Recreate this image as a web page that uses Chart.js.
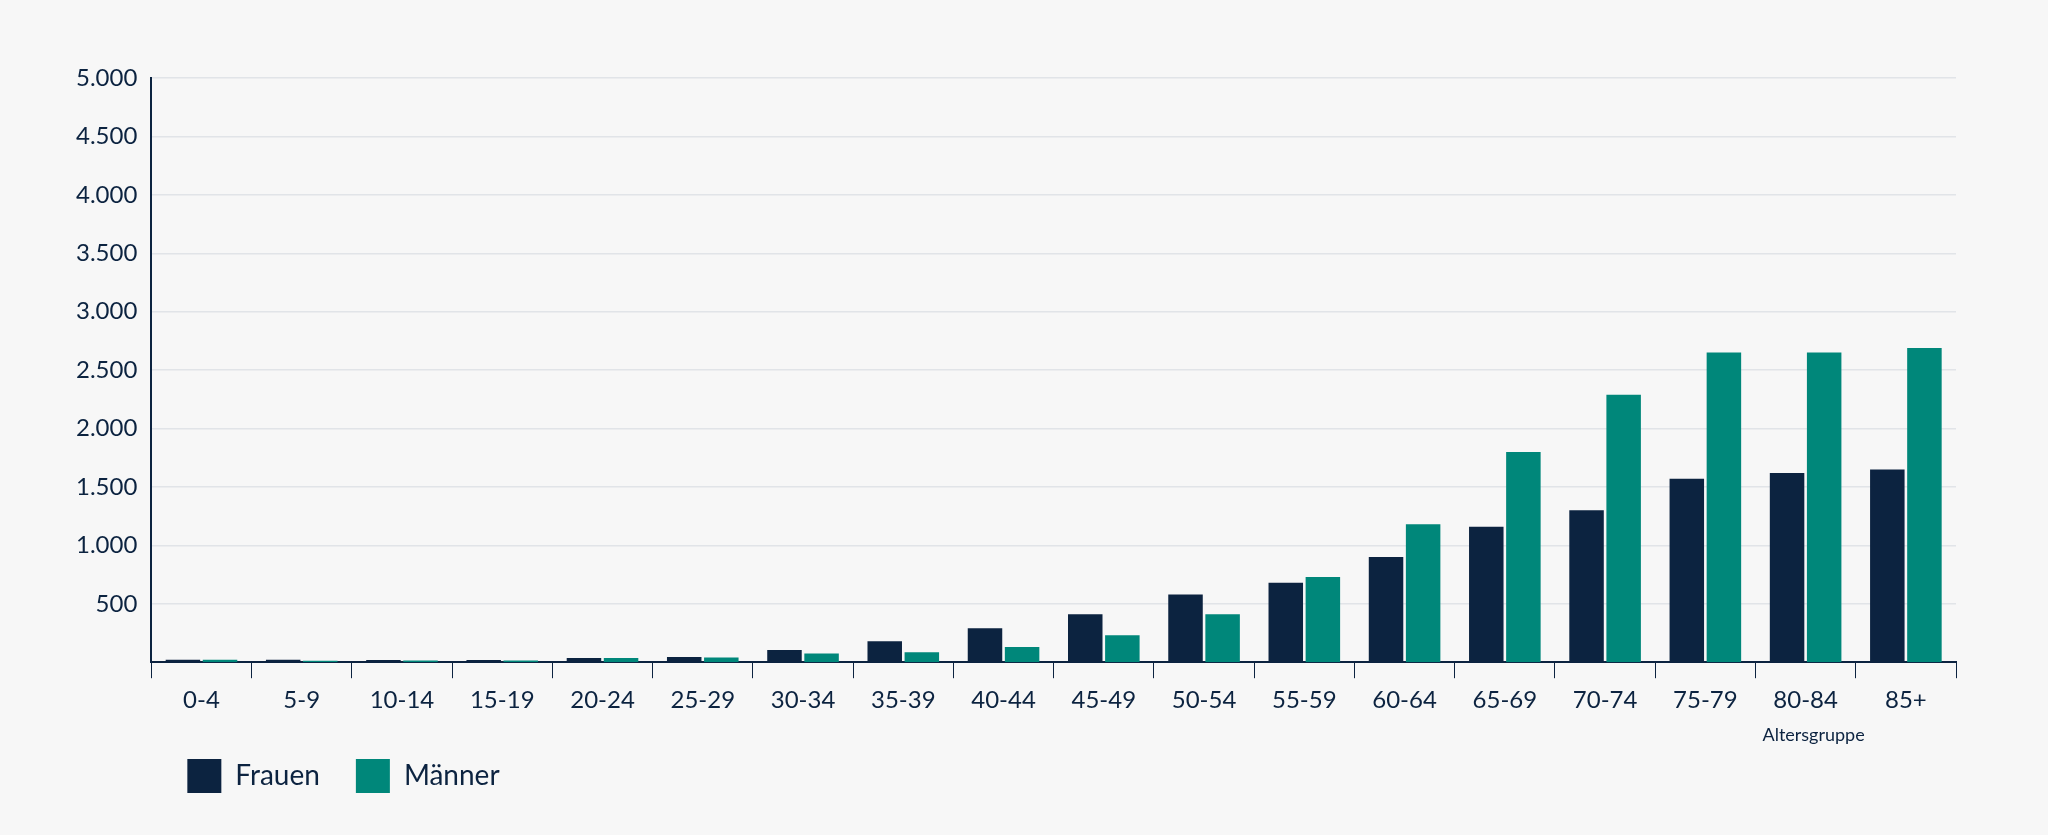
<!DOCTYPE html>
<html>
<head>
<meta charset="utf-8">
<script src="https://cdn.jsdelivr.net/npm/chart.js@4"></script>
<style>
  html, body { margin: 0; padding: 0; background: #f7f7f7; }
  #wrap { width: 2048px; height: 835px; }
</style>
</head>
<body>
<div id="wrap"><canvas id="myChart"></canvas></div>
<script>
var categories = ['0-4','5-9','10-14','15-19','20-24','25-29','30-34','35-39','40-44','45-49','50-54','55-59','60-64','65-69','70-74','75-79','80-84','85+'];
var frauen = [20,20,18,18,35,45,105,180,290,410,580,680,900,1160,1300,1570,1620,1650];
var maenner = [22,12,15,15,35,40,75,85,130,230,410,730,1180,1800,2290,2650,2650,2690];
var yTicks = [500,1000,1500,2000,2500,3000,3500,4000,4500,5000];

var navy = '#0c2340';
var teal = '#00877a';
var fontFam = 'Lato, "Open Sans", sans-serif';

// draws "Altersgruppe" below the 80-84 label
var axisNote = {
    id: 'axisNote',
    afterDraw(chart) {
        var x = chart.scales.x.getPixelForValue(16);
        var ctx = chart.ctx;
        ctx.save();
        ctx.font = '18px ' + fontFam;
        ctx.fillStyle = navy;
        ctx.textAlign = 'center';
        ctx.fillText('Altersgruppe', x + 8, chart.scales.x.bottom + 12);
        ctx.restore();
    }
};

new Chart('myChart', {
    type: 'bar',
    data: {
        labels: categories,
        datasets: [
            { label: 'Frauen', data: frauen, backgroundColor: navy },
            { label: 'Männer', data: maenner, backgroundColor: teal }
        ]
    },
    options: {
        responsive: true,
        maintainAspectRatio: false,
        animation: false,
        categoryPercentage: 0.74,
        barPercentage: 0.93,
        layout: { padding: { left: 62, right: 92, top: 78, bottom: 32 } },
        plugins: {
            legend: {
                position: 'bottom',
                align: 'start',
                fullSize: false,
                labels: {
                    boxWidth: 34, boxHeight: 34, padding: 36,
                    color: navy,
                    font: { family: fontFam, size: 28 }
                }
            },
            tooltip: { enabled: false }
        },
        scales: {
            x: {
                grid: { display: true, drawOnChartArea: false, offset: true, tickLength: 16, color: navy },
                border: { color: navy, width: 2 },
                ticks: { color: navy, padding: 8, font: { family: fontFam, size: 24 } }
            },
            y: {
                min: 0, max: 5000,
                afterBuildTicks(axis) { axis.ticks = yTicks.map(v => ({ value: v })); },
                grid: { color: '#e1e4e8', lineWidth: 1.5, drawTicks: false },
                border: { color: navy, width: 2 },
                ticks: {
                    color: navy, padding: 14,
                    font: { family: fontFam, size: 24 },
                    callback: v => v.toLocaleString('de-DE')
                }
            }
        }
    },
    plugins: [axisNote]
});
</script>
</body>
</html>
